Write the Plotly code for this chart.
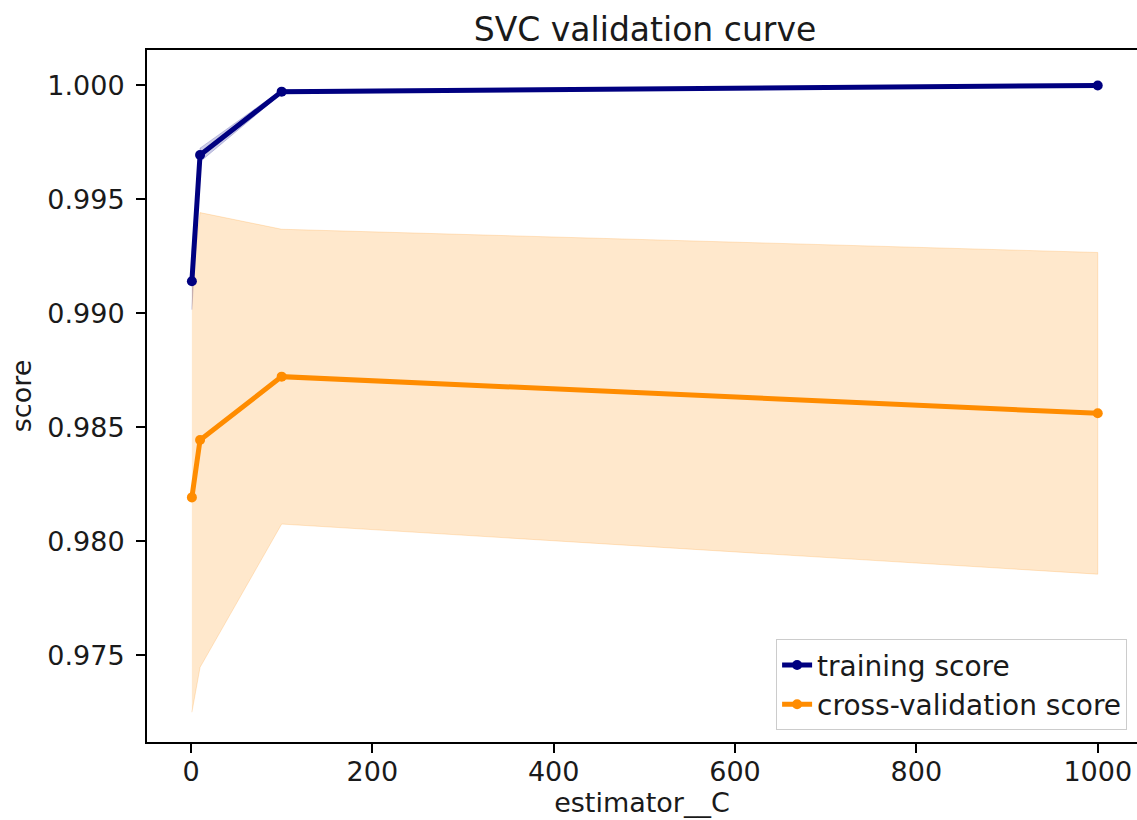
import plotly.graph_objects as go

# Validation curve for an SVC over the regularisation parameter C
param_range = [1, 10, 100, 1000]
train_mean = [0.99141, 0.99695, 0.99973, 1.0]
train_std = [0.00125, 0.00030, 0.00008, 0.0]
cv_mean = [0.98192, 0.98444, 0.98722, 0.98561]
cv_std = [0.00943, 0.00998, 0.00647, 0.00706]

FONT = "DejaVu Sans"
NAVY = "#000080"
ORANGE = "#ff8c00"
TEXT = "#1a1a1a"


def band(xs, mean, std):
    upper = [m + s for m, s in zip(mean, std)]
    lower = [m - s for m, s in zip(mean, std)]
    return list(xs) + list(xs)[::-1], upper + lower[::-1]


fig = go.Figure()

bx, by = band(param_range, train_mean, train_std)
fig.add_trace(go.Scatter(x=bx, y=by, mode="lines", fill="toself",
                         fillcolor="rgba(0,0,128,0.2)",
                         line=dict(color="rgba(0,0,128,0.2)", width=1),
                         hoverinfo="skip", showlegend=False))
bx, by = band(param_range, cv_mean, cv_std)
fig.add_trace(go.Scatter(x=bx, y=by, mode="lines", fill="toself",
                         fillcolor="rgba(255,140,0,0.2)",
                         line=dict(color="rgba(255,140,0,0.2)", width=1),
                         hoverinfo="skip", showlegend=False))

fig.add_trace(go.Scatter(x=param_range, y=train_mean, mode="lines+markers",
                         name="training score",
                         line=dict(color=NAVY, width=5),
                         marker=dict(color=NAVY, size=10)))
fig.add_trace(go.Scatter(x=param_range, y=cv_mean, mode="lines+markers",
                         name="cross-validation score",
                         line=dict(color=ORANGE, width=5),
                         marker=dict(color=ORANGE, size=10)))

axis_common = dict(
    showgrid=False, zeroline=False, showline=True, linecolor="black", linewidth=2,
    ticks="outside", ticklen=9, tickwidth=2, tickcolor="black",
    tickfont=dict(family=FONT, size=27, color=TEXT),
)

fig.update_layout(
    width=1137, height=820,
    margin=dict(l=147, r=0, t=50, b=78),
    plot_bgcolor="white", paper_bgcolor="white",
    font=dict(family=FONT, color=TEXT),
    title=dict(text="SVC validation curve", x=(147 + 1143) / 2 / 1137, xanchor="center",
               y=0.964, yanchor="middle",
               font=dict(family=FONT, size=33, color=TEXT)),
    xaxis=dict(**axis_common, range=[-48.5, 1043.3], tick0=0, dtick=200, mirror=True,
               ticklabelstandoff=-4,
               title=dict(text="estimator__C", font=dict(family=FONT, size=27), standoff=0)),
    yaxis=dict(**axis_common, range=[0.971184, 1.001557], tick0=0.975, dtick=0.005,
               tickformat=".3f", mirror=False, ticklabelstandoff=6,
               title=dict(text="score", font=dict(family=FONT, size=27), standoff=8)),
    legend=dict(x=0.99, xanchor="right", y=0.017, yanchor="bottom",
                bgcolor="rgba(255,255,255,0.8)", bordercolor="#cccccc", borderwidth=1,
                font=dict(family=FONT, size=28, color=TEXT)),
)

fig.write_html("out.html")
